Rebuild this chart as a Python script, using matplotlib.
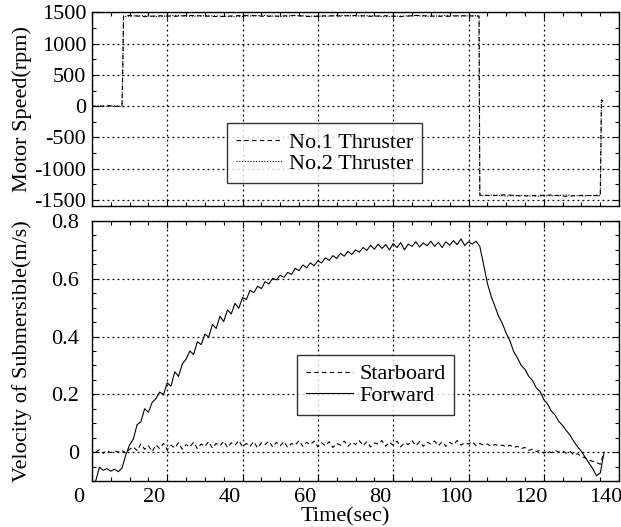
#!/usr/bin/python

import numpy as np
import matplotlib
matplotlib.use('Agg')
import matplotlib.pyplot as plt
from matplotlib.ticker import MultipleLocator
from matplotlib.transforms import ScaledTranslation

plt.rcParams['font.family'] = ['Liberation Serif', 'DejaVu Serif']
plt.rcParams['font.size'] = 16
plt.rcParams['axes.unicode_minus'] = False

# motor speed samples (sec, rpm)
thr_t = [0, 2, 4, 6, 8, 8.2, 8.4,
         10, 14, 18, 22, 26, 30, 34, 38, 42, 46, 50, 54, 58, 62, 66, 70,
         74, 78, 82, 86, 90, 94, 98, 102,
         102.8, 103.0,
         106, 110, 114, 118, 122, 126, 130, 134,
         135.0, 135.3, 135.8]
thr1 = [5, -10, 15, -5, 0, 650, 1440,
        1450, 1430, 1445, 1435, 1450, 1440, 1430, 1445, 1450, 1435, 1440, 1450,
        1430, 1445, 1440, 1450, 1435, 1445, 1430, 1450, 1440, 1435, 1445, 1440,
        1440, -1420,
        -1430, -1415, -1435, -1425, -1420, -1440, -1425, -1430,
        -1425, 100, 80]
thr2 = [-10, 10, -5, 5, -10, 600, 1430,
        1440, 1445, 1430, 1450, 1435, 1445, 1440, 1430, 1440, 1450, 1430, 1445,
        1440, 1435, 1450, 1440, 1445, 1430, 1440, 1445, 1435, 1450, 1440, 1445,
        1435, -1430,
        -1420, -1435, -1425, -1440, -1430, -1420, -1435, -1425,
        -1430, 90, 70]

# velocity samples, one per second from t=1 to t=136
vel_t = np.arange(1, 137)
forward = [-0.10, -0.052, -0.063, -0.057, -0.066, -0.059, -0.068, -0.055, -0.010, 0.025,
           0.045, 0.095, 0.105, 0.150, 0.138, 0.172, 0.185, 0.208, 0.198, 0.240,
           0.228, 0.278, 0.262, 0.305, 0.322, 0.350, 0.338, 0.382, 0.372, 0.408,
           0.398, 0.442, 0.428, 0.470, 0.452, 0.492, 0.478, 0.515, 0.498, 0.535,
           0.528, 0.560, 0.552, 0.574, 0.566, 0.590, 0.582, 0.602, 0.596, 0.612,
           0.605, 0.622, 0.615, 0.636, 0.628, 0.648, 0.638, 0.655, 0.645, 0.662,
           0.655, 0.672, 0.664, 0.680, 0.670, 0.688, 0.678, 0.695, 0.684, 0.700,
           0.692, 0.708, 0.698, 0.716, 0.702, 0.720, 0.705, 0.718, 0.700, 0.722,
           0.708, 0.725, 0.700, 0.720, 0.712, 0.728, 0.710, 0.724, 0.714, 0.730,
           0.712, 0.726, 0.708, 0.728, 0.716, 0.732, 0.718, 0.738, 0.715, 0.728,
           0.720, 0.730, 0.712, 0.650, 0.585, 0.540, 0.505, 0.470, 0.445, 0.412,
           0.385, 0.348, 0.326, 0.300, 0.286, 0.262, 0.248, 0.222, 0.210, 0.182,
           0.166, 0.142, 0.128, 0.106, 0.092, 0.074, 0.058, 0.036, 0.018, 0.002,
           -0.018, -0.038, -0.058, -0.082, -0.072, 0.000]
starboard = [0.000, 0.008, -0.004, 0.006, -0.002, 0.004, 0.000, 0.006, -0.004, 0.010,
             0.018, 0.005, 0.028, 0.010, 0.022, 0.002, 0.025, 0.012, 0.030, 0.008,
             0.024, 0.014, 0.032, 0.010, 0.026, 0.018, 0.034, 0.012, 0.028, 0.020,
             0.036, 0.014, 0.030, 0.022, 0.038, 0.016, 0.032, 0.024, 0.040, 0.018,
             0.030, 0.020, 0.036, 0.014, 0.032, 0.026, 0.038, 0.018, 0.034, 0.022,
             0.036, 0.016, 0.030, 0.024, 0.040, 0.020, 0.034, 0.026, 0.038, 0.018,
             0.032, 0.022, 0.036, 0.016, 0.030, 0.024, 0.038, 0.020, 0.034, 0.026,
             0.040, 0.022, 0.036, 0.018, 0.032, 0.028, 0.040, 0.020, 0.034, 0.024,
             0.038, 0.018, 0.032, 0.026, 0.040, 0.022, 0.036, 0.020, 0.034, 0.028,
             0.038, 0.022, 0.036, 0.020, 0.034, 0.026, 0.040, 0.024, 0.032, 0.028,
             0.036, 0.022, 0.030, 0.024, 0.028, 0.020, 0.026, 0.022, 0.024, 0.018,
             0.024, 0.016, 0.020, 0.012, 0.016, 0.006, 0.010, 0.002, 0.006, -0.004,
             0.004, -0.002, 0.006, 0.000, 0.004, -0.004, 0.002, -0.010, -0.006, -0.016,
             -0.020, -0.028, -0.032, -0.036, -0.042, 0.000]


def styleAxes(ax):
    ax.tick_params(which='both', direction='in', top=True, right=True, colors='black')
    ax.tick_params(which='major', length=5, width=0.8)
    ax.tick_params(which='minor', length=3, width=0.8)
    ax.grid(True, which='major', linestyle=(0, (1.5, 2.5)), color='black', linewidth=0.9)
    for sp in ax.spines.values():
        sp.set_linewidth(1.0)
        sp.set_color('black')


def makeLegend(ax, anchor):
    leg = ax.legend(loc='lower left', bbox_to_anchor=anchor, frameon=True,
                    fancybox=False, handlelength=2.1, borderpad=0.4, labelspacing=0.05,
                    handletextpad=0.3, borderaxespad=0, fontsize=16)
    leg.get_frame().set_edgecolor('black')
    leg.get_frame().set_linewidth(1.0)
    return leg


def main():
    fig = plt.figure(figsize=(6.21, 5.27), dpi=100)
    ax1 = fig.add_axes([0.148, 0.6097, 0.849, 0.367])
    ax2 = fig.add_axes([0.148, 0.0873, 0.849, 0.4934])

    ax1.plot(thr_t, thr1, color='black', lw=0.8, linestyle=(0, (4, 3)), label='No.1 Thruster')
    ax1.plot(thr_t, thr2, color='black', lw=0.8, linestyle=(0, (1, 1.5)), label='No.2 Thruster')
    ax1.set_xlim(0, 140)
    ax1.set_ylim(-1590, 1500)
    ax1.xaxis.set_major_locator(MultipleLocator(20))
    ax1.xaxis.set_minor_locator(MultipleLocator(5))
    ax1.yaxis.set_major_locator(MultipleLocator(500))
    ax1.yaxis.set_minor_locator(MultipleLocator(250))
    ax1.set_xticklabels([])
    styleAxes(ax1)
    ax1.tick_params(axis='y', pad=4)
    ax1.set_ylabel('Motor Speed(rpm)')
    ax1.yaxis.set_label_coords(-0.113, 0.5)
    makeLegend(ax1, (0.256, 0.117))

    ax2.plot(vel_t, starboard, color='black', lw=0.8, linestyle=(0, (4, 3)), label='Starboard')
    ax2.plot(vel_t, forward, color='black', lw=0.8, label='Forward')
    ax2.set_xlim(0, 140)
    ax2.set_ylim(-0.1, 0.8)
    ax2.xaxis.set_major_locator(MultipleLocator(20))
    ax2.xaxis.set_minor_locator(MultipleLocator(5))
    ax2.yaxis.set_minor_locator(MultipleLocator(0.05))
    ax2.set_yticks([0, 0.2, 0.4, 0.6, 0.8])
    ax2.set_yticklabels(['0', '0.2', '0.4', '0.6', '0.8'])
    styleAxes(ax2)
    ax2.tick_params(axis='y', pad=9)
    ax2.tick_params(axis='x', pad=5)
    shift = ScaledTranslation(-13 / 100.0, 0, fig.dpi_scale_trans)
    for lab in ax2.get_xticklabels():
        lab.set_transform(lab.get_transform() + shift)
    ax2.set_xlabel('Time(sec)')
    ax2.xaxis.set_label_coords(0.48, -0.1)
    ax2.set_ylabel('Velocity of Submersible(m/s)')
    ax2.yaxis.set_label_coords(-0.113, 0.5)
    makeLegend(ax2, (0.389, 0.254))

    fig.savefig('out.png', dpi=100)


if __name__ == '__main__':
    main()
